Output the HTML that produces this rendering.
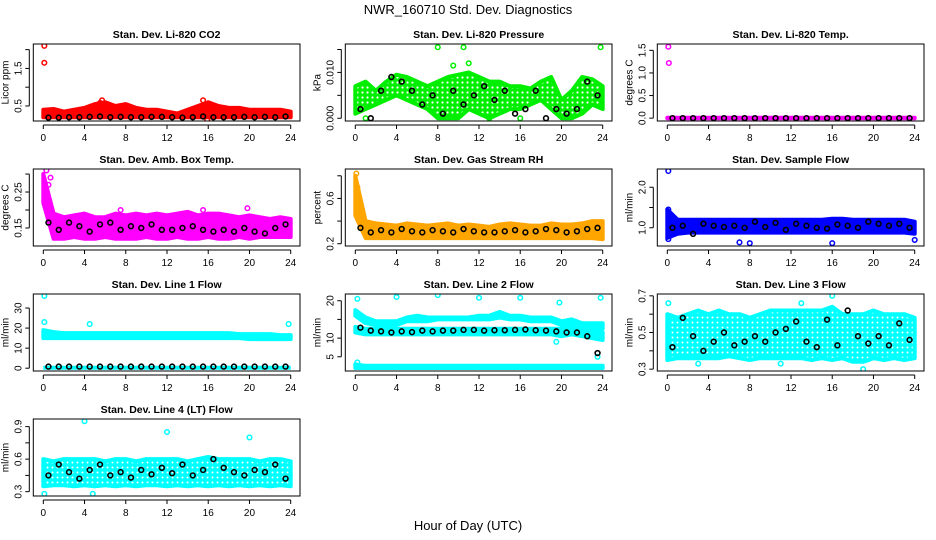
<!DOCTYPE html>
<html><head><meta charset="utf-8"><style>
html,body{margin:0;padding:0;background:#fff;}
svg{display:block;font-family:"Liberation Sans",sans-serif;}
</style></head><body>
<svg id="chart" width="936" height="540" viewBox="0 0 936 540">
<defs>
<pattern id="ringc" width="5" height="5" patternUnits="userSpaceOnUse"><rect width="5" height="5" fill="#00ffff"/><circle cx="2.5" cy="2.5" r="1" fill="#fff"/></pattern>
<pattern id="ringg" width="5" height="5" patternUnits="userSpaceOnUse"><rect width="5" height="5" fill="#00ee00"/><circle cx="2.5" cy="2.5" r="1.1" fill="#fff"/></pattern>
</defs>
<text x="468" y="14" text-anchor="middle" font-size="13">NWR_160710  Std. Dev. Diagnostics</text>
<text x="468" y="530" text-anchor="middle" font-size="13">Hour of Day (UTC)</text>
</svg>
<script>
const hours=[0,1,2,3,4,5,6,7,8,9,10,11,12,13,14,15,16,17,18,19,20,21,22,23,24];
const blkT=[0.5,1.5,2.5,3.5,4.5,5.5,6.5,7.5,8.5,9.5,10.5,11.5,12.5,13.5,14.5,15.5,16.5,17.5,18.5,19.5,20.5,21.5,22.5,23.5];
const xTicks=[0,4,8,12,16,20,24];
const titles=["Stan. Dev. Li-820 CO2","Stan. Dev. Li-820 Pressure","Stan. Dev. Li-820 Temp.","Stan. Dev. Amb. Box Temp.","Stan. Dev. Gas Stream RH","Stan. Dev. Sample Flow","Stan. Dev. Line 1 Flow","Stan. Dev. Line 2 Flow","Stan. Dev. Line 3 Flow","Stan. Dev. Line 4 (LT) Flow"];
const yLabels=["Licor ppm","kPa","degrees C","degrees C","percent","ml/min","ml/min","ml/min","ml/min","ml/min"];
const co2Hi=[0.4,0.42,0.35,0.4,0.45,0.55,0.6,0.5,0.55,0.45,0.4,0.4,0.35,0.3,0.4,0.5,0.6,0.5,0.45,0.45,0.4,0.4,0.4,0.4,0.35];
const co2Lo=[0.2,0.2,0.2,0.2,0.2,0.2,0.2,0.2,0.2,0.2,0.2,0.2,0.2,0.2,0.2,0.2,0.2,0.2,0.2,0.2,0.2,0.2,0.2,0.2,0.2];
const co2Blk=[0.19,0.19,0.2,0.2,0.21,0.22,0.2,0.21,0.2,0.2,0.21,0.21,0.2,0.19,0.2,0.22,0.2,0.2,0.2,0.21,0.2,0.21,0.2,0.22];
const co2OutT=[0.1,0.1,5.5,5.7,15.5,15.9];
const co2OutV=[2.1,1.65,0.58,0.65,0.65,0.13];
const prHi=[0.007,0.008,0.006,0.008,0.0095,0.009,0.008,0.007,0.008,0.009,0.0095,0.01,0.009,0.008,0.008,0.007,0.007,0.0065,0.008,0.009,0.004,0.006,0.009,0.0085,0.007];
const prLo=[0.001,0.002,0.003,0.004,0.005,0.004,0.003,0.002,0,0,0,0.002,0.001,0,0.001,0.002,0.002,0.003,0.004,0.002,0,0,0.001,0.003,0.002];
const prBlk=[0.002,0.0,0.006,0.009,0.008,0.006,0.003,0.005,0.001,0.006,0.003,0.005,0.007,0.004,0.006,0.001,0.002,0.006,0.0,0.002,0.001,0.002,0.008,0.005];
const prOutT=[8,10.5,11,23.8,9.5,1,13,16];
const prOutV=[0.0155,0.0155,0.012,0.0155,0.0115,0,0,0];
const tpHi=[0.01,0.01,0.01,0.01,0.01,0.01,0.01,0.01,0.01,0.01,0.01,0.01,0.01,0.01,0.01,0.01,0.01,0.01,0.01,0.01,0.01,0.01,0.01,0.01,0.01];
const tpLo=[0,0,0,0,0,0,0,0,0,0,0,0,0,0,0,0,0,0,0,0,0,0,0,0,0];
const tpBlk=[0,0,0,0,0,0,0,0,0,0,0,0,0,0,0,0,0,0,0,0,0,0,0,0];
const tpOutT=[0.1,0.15];
const tpOutV=[1.58,1.22];
const abHi=[0.3,0.19,0.18,0.185,0.19,0.18,0.18,0.19,0.185,0.19,0.185,0.19,0.185,0.19,0.195,0.185,0.19,0.19,0.185,0.18,0.185,0.18,0.175,0.18,0.175];
const abLo=[0.22,0.12,0.12,0.125,0.12,0.12,0.125,0.12,0.12,0.12,0.125,0.12,0.12,0.125,0.12,0.12,0.125,0.12,0.12,0.125,0.12,0.125,0.125,0.125,0.125];
const abBlk=[0.165,0.145,0.165,0.155,0.14,0.16,0.165,0.145,0.155,0.15,0.16,0.145,0.145,0.15,0.155,0.145,0.14,0.145,0.14,0.15,0.14,0.135,0.15,0.16];
const abOutT=[0.3,0.5,0.7,7.5,15.5,19.8];
const abOutV=[0.31,0.27,0.29,0.2,0.2,0.205];
const rhHi=[0.8,0.4,0.38,0.37,0.36,0.38,0.37,0.36,0.37,0.38,0.36,0.37,0.36,0.35,0.37,0.38,0.37,0.36,0.36,0.38,0.37,0.37,0.38,0.4,0.4];
const rhLo=[0.45,0.25,0.25,0.25,0.25,0.25,0.25,0.25,0.25,0.25,0.25,0.25,0.25,0.25,0.25,0.25,0.25,0.25,0.25,0.25,0.25,0.25,0.25,0.25,0.24];
const rhBlk=[0.34,0.3,0.32,0.3,0.33,0.31,0.3,0.32,0.31,0.3,0.33,0.31,0.3,0.3,0.31,0.32,0.3,0.31,0.33,0.32,0.3,0.31,0.33,0.34];
const rhOutT=[0.1,0.2,0.3];
const rhOutV=[0.82,0.7,0.6];
const sfHi=[1.45,1.2,1.2,1.2,1.2,1.2,1.2,1.2,1.2,1.2,1.2,1.2,1.2,1.2,1.2,1.2,1.22,1.22,1.2,1.2,1.2,1.2,1.2,1.2,1.15];
const sfLo=[0.75,0.85,0.88,0.88,0.88,0.88,0.88,0.88,0.88,0.88,0.88,0.88,0.88,0.88,0.88,0.88,0.88,0.88,0.88,0.88,0.88,0.88,0.88,0.88,0.85];
const sfBlk=[1.0,1.05,0.85,1.1,1.05,1.02,1.05,1.0,1.15,1.02,1.12,0.95,1.1,1.05,1.0,0.98,1.08,1.05,1.0,1.15,1.1,1.05,1.1,1.0];
const sfOutT=[0.1,0.1,0.1,24,16,7,8];
const sfOutV=[2.4,1.45,0.72,0.7,0.62,0.64,0.62];
const l1Hi=[19,18,17.5,17.5,17.5,17.5,17.5,17.5,17.5,17.5,17.5,17.5,17.5,17.5,17.5,17.5,17.5,17.5,17.5,17,17,17,17,16.5,16.5];
const l1Lo=[15,15,15,15,15,15,15,15,15,15,15,15,15,15,15,15,15,15,15,15,14.5,14.5,14.5,14.5,14.5];
const l1Blk=[0.8,0.8,0.8,0.8,0.8,0.8,0.8,0.8,0.8,0.8,0.8,0.8,0.8,0.8,0.8,0.8,0.8,0.8,0.8,0.8,0.8,0.8,0.8,0.8];
const l1OutT=[0.1,0.1,4.5,23.8];
const l1OutV=[36,23,22,22];
const l2Hi=[17.5,15.5,14.5,14.5,14.5,15.5,16,15.5,15.5,15.5,15.5,15.5,16,16,17,16,16,15.5,15.5,15.5,14.5,15,14,14,14];
const l2Lo=[16,14,13.5,13.5,13.5,14.5,14.5,14.5,15,15,15,15,15,15,15.5,15,15,14.5,14.5,14.5,13.5,13.5,13,13,12.5];
const l2MidHi=[13,12.5,12.5,12.5,12.5,12.5,12.5,12.5,12.5,12.5,12.5,12.5,12.5,12.5,12.5,12.5,12.5,12.5,12.5,12.5,12.5,12.5,12,12,11.5];
const l2MidLo=[11.5,11,11,11,11,11,11,11,11,11,11,11,11,11,11,11,11,11,11,11,10.5,11,10.5,10,9.5];
const l2BotHi=[3,2.6,2.6,2.6,2.6,2.6,2.6,2.6,2.6,2.6,2.6,2.6,2.6,2.6,2.6,2.6,2.6,2.6,2.6,2.6,2.6,2.6,2.6,2.6,2.6];
const l2BotLo=[2,2,2,2,2,2,2,2,2,2,2,2,2,2,2,2,2,2,2,2,2,2,2,2,2];
const l2Blk=[12.8,12,11.8,11.5,11.8,11.6,12,11.8,12,12,12.2,12.2,12,12.1,12.1,12.2,12.3,12.1,12,11.8,11.5,11.5,10.5,6];
const l2OutT=[0.2,4,8,12,16,19.8,23.8,23.5,19.5,0.2];
const l2OutV=[20.5,21,21.5,20.8,20.8,19.5,20.8,5,9,3.5];
const l3Hi=[0.6,0.58,0.6,0.62,0.6,0.62,0.6,0.6,0.58,0.6,0.62,0.62,0.62,0.62,0.62,0.62,0.64,0.6,0.6,0.6,0.62,0.6,0.6,0.6,0.58];
const l3Lo=[0.35,0.36,0.36,0.36,0.36,0.36,0.37,0.36,0.35,0.36,0.36,0.36,0.36,0.36,0.35,0.36,0.35,0.36,0.34,0.34,0.36,0.35,0.36,0.35,0.36];
const l3Blk=[0.42,0.58,0.48,0.4,0.45,0.5,0.43,0.45,0.48,0.45,0.5,0.52,0.56,0.45,0.42,0.57,0.43,0.62,0.48,0.44,0.48,0.43,0.55,0.46];
const l3OutT=[0.1,16,13,19,3,11];
const l3OutV=[0.66,0.7,0.66,0.3,0.33,0.33];
const l4Hi=[0.6,0.58,0.6,0.6,0.6,0.6,0.58,0.6,0.6,0.58,0.6,0.6,0.6,0.6,0.58,0.6,0.62,0.6,0.6,0.6,0.6,0.58,0.6,0.6,0.58];
const l4Lo=[0.35,0.36,0.36,0.35,0.36,0.35,0.36,0.35,0.36,0.35,0.36,0.36,0.35,0.36,0.35,0.36,0.35,0.36,0.35,0.36,0.35,0.36,0.35,0.36,0.35];
const l4Blk=[0.45,0.55,0.48,0.42,0.5,0.55,0.45,0.48,0.43,0.5,0.46,0.52,0.47,0.55,0.45,0.5,0.6,0.52,0.48,0.45,0.5,0.48,0.55,0.42];
const l4OutT=[0.1,4,12,20,4.8];
const l4OutV=[0.28,0.95,0.85,0.8,0.28];

const panels=[
 {yl:[0.1,2.15],yt:[0.5,1,1.5,2],ytl:["0.5","","1.5",""],col:"#ff0000",bands:[[co2Hi,co2Lo]],blk:co2Blk,ot:co2OutT,ov:co2OutV},
 {yl:[-0.0006,0.0162],yt:[0,0.005,0.01,0.015],ytl:["0.000","","0.010",""],col:"#00ee00",fill:"url(#ringg)",bands:[[prHi,prLo]],blk:prBlk,ot:prOutT,ov:prOutV},
 {yl:[-0.063,1.64],yt:[0,0.5,1,1.5],ytl:["0.0","0.5","1.0","1.5"],col:"#ff00ff",bands:[[tpHi,tpLo]],blk:tpBlk,ot:tpOutT,ov:tpOutV},
 {yl:[0.1,0.314],yt:[0.15,0.2,0.25,0.3],ytl:["0.15","","0.25",""],col:"#ff00ff",bands:[[abHi,abLo]],blk:abBlk,ot:abOutT,ov:abOutV},
 {yl:[0.18,0.86],yt:[0.2,0.4,0.6,0.8],ytl:["0.2","","0.6",""],col:"#ffa500",bands:[[rhHi,rhLo]],blk:rhBlk,ot:rhOutT,ov:rhOutV},
 {yl:[0.55,2.45],yt:[1,1.5,2],ytl:["1.0","","2.0"],col:"#0000ff",bands:[[sfHi,sfLo]],blk:sfBlk,ot:sfOutT,ov:sfOutV},
 {yl:[-1.4,37],yt:[0,10,20,30],ytl:["0","10","20","30"],col:"#00ffff",bands:[[l1Hi,l1Lo]],blk:l1Blk,ot:l1OutT,ov:l1OutV,base:0.2},
 {yl:[1.2,21.8],yt:[5,10,15,20],ytl:["5","10","","20"],col:"#00ffff",bands:[[l2Hi,l2Lo],[l2MidHi,l2MidLo],[l2BotHi,l2BotLo]],blk:l2Blk,ot:l2OutT,ov:l2OutV},
 {yl:[0.29,0.71],yt:[0.3,0.4,0.5,0.6,0.7],ytl:["0.3","","0.5","","0.7"],col:"#00ffff",fill:"url(#ringc)",bands:[[l3Hi,l3Lo]],blk:l3Blk,ot:l3OutT,ov:l3OutV},
 {yl:[0.26,0.97],yt:[0.3,0.45,0.6,0.75,0.9],ytl:["0.3","","0.6","","0.9"],col:"#00ffff",fill:"url(#ringc)",bands:[[l4Hi,l4Lo]],blk:l4Blk,ot:l4OutT,ov:l4OutV}
];
const NS="http://www.w3.org/2000/svg";
const svg=document.getElementById('chart');
function mk(tag,attrs,parent){const e=document.createElementNS(NS,tag);for(const k in attrs)e.setAttribute(k,attrs[k]);parent.appendChild(e);return e;}
const colL=[33.3,345.3,657.3],rowT=[44,169,294,419],W=266.7,Hh=77;
panels.forEach((p,i)=>{
 const L=colL[i%3],T=rowT[Math.floor(i/3)],B=T+Hh;
 const g=mk('g',{},svg);
 
 
 const xs=t=>L+10+t*(247.4/24);
 const ys=v=>B-(v-p.yl[0])/(p.yl[1]-p.yl[0])*Hh;
 const cp='cp'+i;
 const c=mk('clipPath',{id:cp},g);mk('rect',{x:L,y:T,width:W,height:Hh},c);
 const pg=mk('g',{'clip-path':'url(#'+cp+')'},g);
 p.bands.forEach((b,bi)=>{
  let d='';hours.forEach((h,k)=>{d+=(k?'L':'M')+xs(h).toFixed(1)+','+ys(b[0][k]).toFixed(1);});
  for(let k=hours.length-1;k>=0;k--)d+='L'+xs(hours[k]).toFixed(1)+','+ys(b[1][k]).toFixed(1);
  const e=mk('path',{d:d+'Z',fill:p.fill||p.col,stroke:p.col,'stroke-width':4,'stroke-linejoin':'round'},pg);
  
  
 });
 if(p.base!==undefined){const e=mk('line',{x1:xs(0),x2:xs(24),y1:ys(p.base),y2:ys(p.base),stroke:p.col,'stroke-width':4},pg);
  
  }
 p.ot.forEach((t,k)=>{const e=mk('circle',{cx:xs(t),cy:ys(p.ov[k]),r:2.3,fill:'none',stroke:p.col,'stroke-width':1.5},pg);
  
  });
 blkT.forEach((t,k)=>{const e=mk('circle',{cx:xs(t),cy:ys(p.blk[k]),r:2.4,fill:'none',stroke:'#000','stroke-width':1.6},pg);
  
  });
 const fr=mk('rect',{x:L,y:T,width:W,height:Hh,fill:'none',stroke:'#000','stroke-width':1},g);
 
 
 const tt=mk('text',{x:L+W/2,y:T-6,'text-anchor':'middle','font-size':10.5,'font-weight':'bold'},g);tt.textContent=titles[i];
 
 
 mk('line',{x1:xs(0),x2:xs(24),y1:B+4,y2:B+4,stroke:'#000'},g);
 xTicks.forEach(t=>{mk('line',{x1:xs(t),x2:xs(t),y1:B+4,y2:B+8,stroke:'#000'},g);
  const e=mk('text',{x:xs(t),y:B+20,'text-anchor':'middle','font-size':10},g);e.textContent=t;
  
  });
 mk('line',{x1:L-4,x2:L-4,y1:ys(p.yt[0]),y2:ys(p.yt[p.yt.length-1]),stroke:'#000'},g);
 p.yt.forEach((v,k)=>{const y=ys(v);mk('line',{x1:L-8,x2:L-4,y1:y,y2:y,stroke:'#000'},g);
  if(p.ytl[k]){const e=mk('text',{x:L-12,y:y,'text-anchor':'middle','font-size':10,transform:'rotate(-90 '+(L-12)+' '+y+')'},g);e.textContent=p.ytl[k];
   
   }});
 const yl=mk('text',{x:L-25,y:T+Hh/2,'text-anchor':'middle','font-size':10,transform:'rotate(-90 '+(L-25)+' '+(T+Hh/2)+')'},g);yl.textContent=yLabels[i];
 
 
});
</script>
</body></html>
